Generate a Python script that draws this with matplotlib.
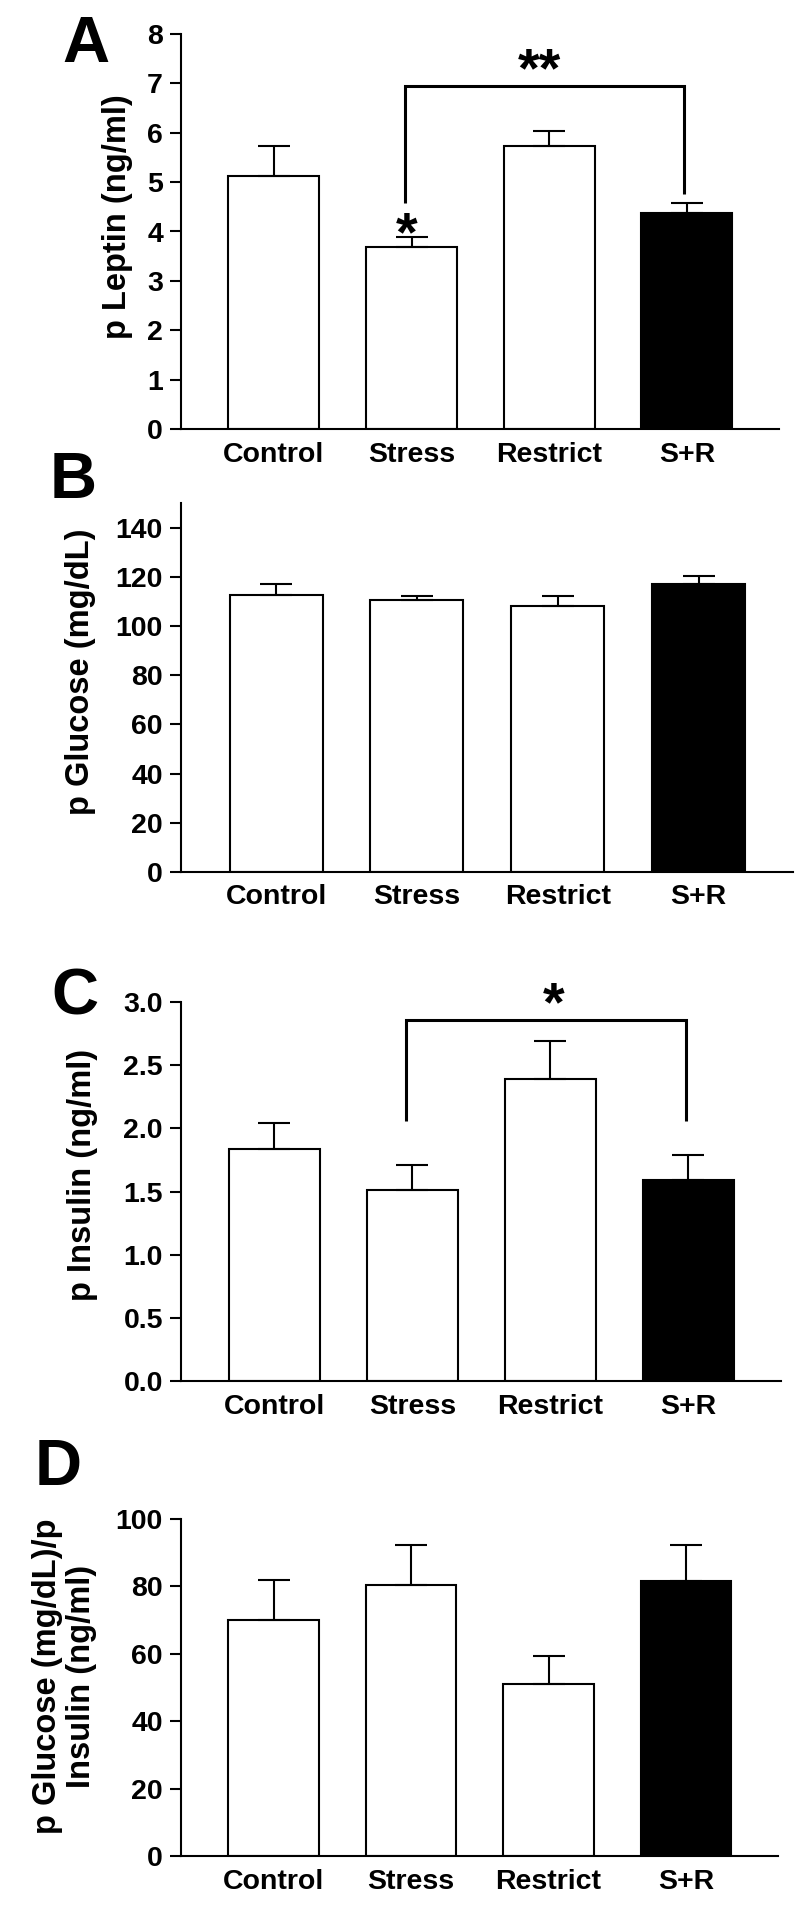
import matplotlib
matplotlib.use("Agg")
import matplotlib.pyplot as plt

plt.rcParams['font.family'] = ['Liberation Sans', 'DejaVu Sans']
plt.rcParams['font.weight'] = 'bold'

# group names + colours
groups = ['Control', 'Stress', 'Restrict', 'S+R']
bar_colors = ['white', 'white', 'white', 'black']

# A - plasma leptin
leptin_mean = [5.13, 3.69, 5.74, 4.38]
leptin_sem = [0.60, 0.20, 0.30, 0.20]

# B - plasma glucose
glucose_mean = [112.6, 110.6, 108.3, 117.0]
glucose_sem = [4.4, 1.6, 3.7, 3.3]

# C - plasma insulin
insulin_mean = [1.84, 1.51, 2.39, 1.59]
insulin_sem = [0.20, 0.20, 0.30, 0.20]

# D - glucose / insulin ratio
ratio_mean = [69.9, 80.4, 50.9, 81.7]
ratio_sem = [12.1, 11.8, 8.3, 10.7]

W, H = 800, 1910
fig = plt.figure(figsize=(W / 100, H / 100), dpi=100)


def px_axes(left, right, top, bottom):
    return fig.add_axes([left / W, 1 - bottom / H, (right - left) / W, (bottom - top) / H])


def bar_panel(ax, means, sems, ylim, yticks, ticklabels, ylabel, label_xy):
    x = range(len(groups))
    ax.bar(x, means, width=0.66, color=bar_colors, edgecolor='black', linewidth=1.5, zorder=2)
    ax.errorbar(x, means, yerr=[[0] * len(sems), sems], fmt='none', ecolor='black',
                elinewidth=1.5, capsize=11.5, capthick=1.5, zorder=3)
    ax.set_xlim(-0.675, 3.67)
    ax.set_ylim(*ylim)
    ax.set_yticks(yticks)
    ax.set_yticklabels(ticklabels)
    ax.set_xticks(list(x))
    ax.set_xticklabels(groups)
    ax.tick_params(axis='x', length=0, pad=9, labelsize=20.5)
    ax.tick_params(axis='y', length=8, width=1.5, pad=5, labelsize=20.5)
    for s in ['top', 'right']:
        ax.spines[s].set_visible(False)
    for s in ['left', 'bottom']:
        ax.spines[s].set_linewidth(1.5)
    ax.set_ylabel(ylabel, fontsize=23.5, fontweight='bold', va='center', linespacing=1.15)
    ax.yaxis.set_label_coords(*label_xy)


def bracket(ax, x0, x1, y, y0, y1, stars, sx):
    ax.plot([x0, x0, x1, x1], [y0, y, y, y1], color='black', lw=2.2, solid_capstyle='butt',
            solid_joinstyle='miter', clip_on=False, zorder=4)
    ax.text(sx, y, stars, ha='center', va='baseline', fontsize=40, fontweight='bold')


# panel A
axA = px_axes(181, 779, 34, 429)
bar_panel(axA, leptin_mean, leptin_sem, (0, 8), range(0, 9), [str(v) for v in range(0, 9)],
          'p Leptin (ng/ml)', (-0.107, 0.537))
bracket(axA, 0.95, 2.98, 6.94, 4.58, 4.76, '**', 1.93)
axA.text(0.966, 3.61, '*', ha='center', va='baseline', fontsize=40, fontweight='bold')

# panel B
axB = px_axes(181, 793, 503, 872)
bar_panel(axB, glucose_mean, glucose_sem, (0, 150), range(0, 141, 20),
          [str(v) for v in range(0, 141, 20)], 'p Glucose (mg/dL)', (-0.165, 0.542))

# panel C
axC = px_axes(181, 781, 1002, 1381)
cticks = [0.0, 0.5, 1.0, 1.5, 2.0, 2.5, 3.0]
bar_panel(axC, insulin_mean, insulin_sem, (0, 3.0), cticks, ['%.1f' % v for v in cticks],
          'p Insulin (ng/ml)', (-0.165, 0.5435))
bracket(axC, 0.955, 2.98, 2.855, 2.06, 2.06, '*', 2.02)

# panel D
axD = px_axes(181, 778, 1519, 1856)
bar_panel(axD, ratio_mean, ratio_sem, (0, 100), range(0, 101, 20),
          [str(v) for v in range(0, 101, 20)], 'p Glucose (mg/dL)/p\nInsulin (ng/ml)',
          (-0.195, 0.534))

# panel letters
for letter, lx, ly in [('A', 62, 62), ('B', 50, 498), ('C', 51, 1014), ('D', 35, 1485)]:
    fig.text(lx / W, 1 - ly / H, letter, fontsize=47, fontweight='bold', ha='left', va='baseline')

fig.savefig('out.png', dpi=100)
